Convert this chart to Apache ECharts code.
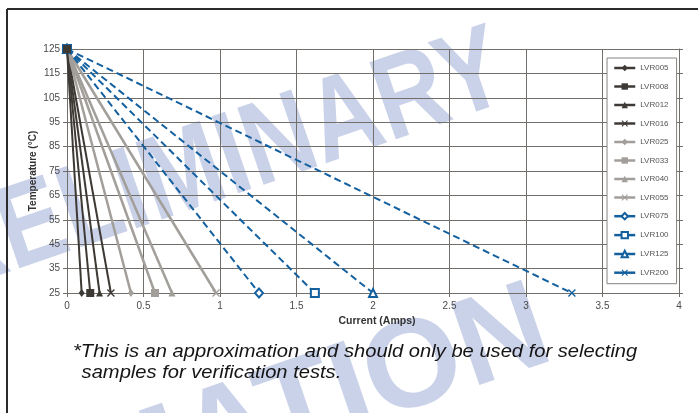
<!DOCTYPE html>
<html><head><meta charset="utf-8">
<script src="https://cdn.jsdelivr.net/npm/echarts@6/dist/echarts.min.js"></script>
<style>html,body{margin:0;padding:0;background:#fff}#c{width:698px;height:413px}</style>
</head><body><div id="c"></div>
<script>
// ---- data ----
const seriesNames = ['LVR005','LVR008','LVR012','LVR016','LVR025','LVR033','LVR040','LVR055','LVR075','LVR100','LVR125','LVR200'];
const startCurrent = 0;          // Amps at top temperature
const tempPoints = [125, 25];    // °C: start and end of each line
const endCurrents = [0.096, 0.152, 0.213, 0.287, 0.418, 0.575, 0.686, 0.974, 1.255, 1.62, 2.0, 3.3];
const yTicks = {min: 25, max: 125, step: 10};
const xTicks = {min: 0, max: 4, step: 0.5};
const xTitle = 'Current (Amps)';
const yTitle = 'Temperature (°C)';
const footnoteLines = ['*This is an approximation and should only be used for selecting', ' samples for verification tests.'];
const watermarkWords = ['PRELIMINARY', 'INFORMATION'];

// ---- styles ----
const FONT = '"Liberation Sans", Arial, Helvetica, sans-serif';
const DARK = '#3d3934', GRAY = '#a29e9a', BLUE = '#14609f', GRID = '#726e6a';
const X_PATH = 'path://M0,1.2L1.2,0L5,3.8L8.8,0L10,1.2L6.2,5L10,8.8L8.8,10L5,6.2L1.2,10L0,8.8L3.8,5Z';
const looks = [
  {c: DARK, s: 'diamond', z: [6, 8]}, {c: DARK, s: 'rect', z: 8}, {c: DARK, s: 'triangle', z: 7}, {c: DARK, s: X_PATH, z: 8},
  {c: GRAY, s: 'diamond', z: [6, 8]}, {c: GRAY, s: 'rect', z: 8}, {c: GRAY, s: 'triangle', z: 7}, {c: GRAY, s: X_PATH, z: 8},
  {c: BLUE, s: 'emptyDiamond', z: [8, 9], d: true}, {c: BLUE, s: 'emptyRect', z: 8, d: true},
  {c: BLUE, s: 'emptyTriangle', z: 8, d: true}, {c: BLUE, s: X_PATH, z: 8, d: true}
];

const series = seriesNames.map((name, i) => {
  const L = looks[i];
  return {
    name, type: 'line',
    data: [[startCurrent, tempPoints[0]], [endCurrents[i], tempPoints[1]]],
    symbol: L.s, symbolSize: L.z, showAllSymbol: true,
    z: i === 1 ? 5 : 2,
    lineStyle: {color: L.c, width: L.d ? 2 : (L.c === GRAY ? 2.5 : 2), type: L.d ? [7, 4] : 'solid'},
    itemStyle: {color: L.c, borderColor: L.c, borderWidth: L.d && L.s !== X_PATH ? 1.6 : 0},
    emphasis: {disabled: true}, animation: false
  };
});

const WM_FILL = '#cad2e9';
const NOTE_FONT = 'italic 19px "Liberation Sans", Arial, sans-serif';
const chart = echarts.init(document.getElementById('c'), null, {renderer: 'canvas'});
chart.setOption({
  animation: false,
  backgroundColor: '#fff',
  textStyle: {fontFamily: FONT},
  grid: {left: 67, right: 19, top: 49, bottom: 120, containLabel: false},
  xAxis: {
    type: 'value', min: xTicks.min, max: xTicks.max, interval: xTicks.step,
    name: xTitle, nameLocation: 'middle', nameGap: 23,
    nameTextStyle: {fontFamily: FONT, fontSize: 10.5, fontWeight: 'bold', color: '#333', padding: [0, 0, 0, 8]},
    axisLine: {show: true, lineStyle: {color: GRID, width: 1}},
    axisTick: {show: true, length: 4, lineStyle: {color: GRID}},
    axisLabel: {fontFamily: FONT, fontSize: 10, color: '#4a4a4a', margin: 8},
    splitLine: {show: true, lineStyle: {color: GRID, width: 1}}
  },
  yAxis: [{
    type: 'value', min: yTicks.min, max: yTicks.max, interval: yTicks.step,
    name: yTitle, nameLocation: 'middle', nameGap: 29, nameRotate: 90, nameMoveOverlap: false,
    nameTextStyle: {fontFamily: FONT, fontSize: 10, fontWeight: 'bold', color: '#333'},
    axisLine: {show: true, lineStyle: {color: GRID, width: 1}},
    axisTick: {show: true, length: 4, lineStyle: {color: GRID}},
    axisLabel: {fontFamily: FONT, fontSize: 10, color: '#4a4a4a', margin: 7},
    splitLine: {show: true, lineStyle: {color: GRID, width: 1}}
  }, {
    type: 'value', position: 'right', min: yTicks.min, max: yTicks.max, interval: yTicks.step,
    axisLine: {show: true, lineStyle: {color: GRID, width: 1}},
    axisTick: {show: true, length: 4, lineStyle: {color: GRID}},
    axisLabel: {show: false}, splitLine: {show: false}
  }],
  legend: {
    orient: 'vertical', left: 607, top: 58,
    itemWidth: 21, itemHeight: 8, itemGap: 10.5,
    padding: [6, 8, 7, 6],
    borderColor: '#86827e', borderWidth: 1, backgroundColor: '#fff',
    textStyle: {fontFamily: FONT, fontSize: 8, color: '#555'},
    lineStyle: {type: 'solid', width: 2.5},
    data: seriesNames, selectedMode: false
  },
  graphic: {elements: [
    {type: 'text', x: 522, y: 124, rotation: 0.33, scaleX: 0.82, z: -100, silent: true,
      style: {text: watermarkWords[0], font: 'bold 118px "Liberation Sans", Arial, sans-serif', fill: WM_FILL, textAlign: 'right', textVerticalAlign: 'bottom'}},
    {type: 'text', x: 566, y: 385, rotation: 0.33, z: -100, silent: true,
      style: {text: watermarkWords[1], font: 'bold 125px "Liberation Sans", Arial, sans-serif', fill: WM_FILL, textAlign: 'right', textVerticalAlign: 'bottom'}},
    {type: 'line', z: 50, silent: true, shape: {x1: 7, y1: 9, x2: 698, y2: 9}, style: {stroke: '#2b2b2b', lineWidth: 2}},
    {type: 'line', z: 50, silent: true, shape: {x1: 7, y1: 9, x2: 7, y2: 413}, style: {stroke: '#2b2b2b', lineWidth: 2}},
    {type: 'text', x: 73, y: 352, scaleX: 1.06, z: 50, silent: true,
      style: {text: footnoteLines[0], font: NOTE_FONT, fill: '#151515', textAlign: 'left', textVerticalAlign: 'middle'}},
    {type: 'text', x: 76, y: 373, scaleX: 1.06, z: 50, silent: true,
      style: {text: footnoteLines[1], font: NOTE_FONT, fill: '#151515', textAlign: 'left', textVerticalAlign: 'middle'}}
  ]},
  series
});
</script></body></html>
